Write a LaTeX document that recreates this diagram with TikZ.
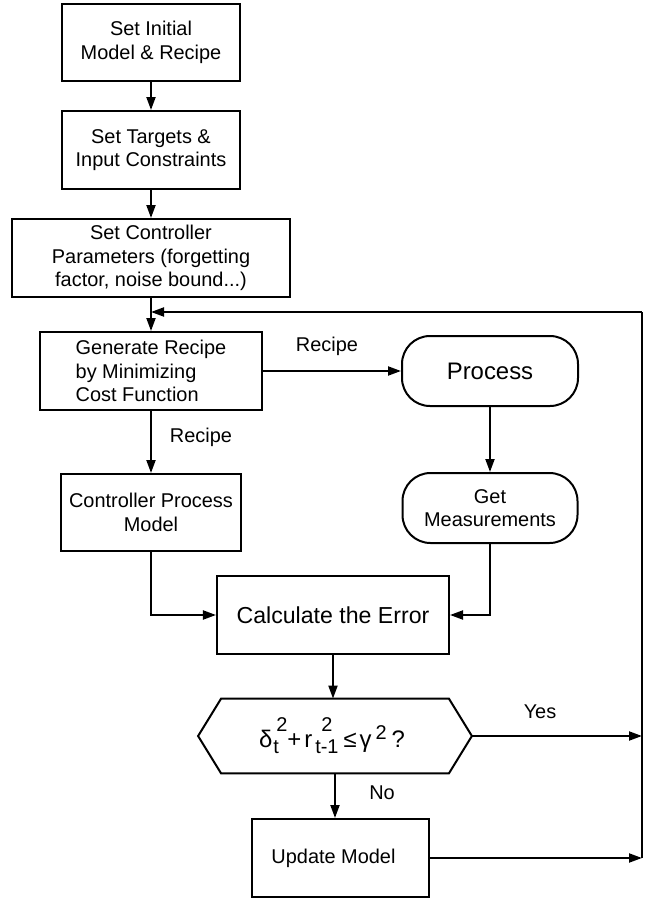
\documentclass[tikz,border=0pt]{standalone}
\usepackage{fontspec}
\setmainfont{Liberation Sans}
\usetikzlibrary{arrows.meta,calc}

\newlength{\sslen}
\newcommand{\lo}[1]{\raisebox{-3bp}{\fontsize{10}{12}\selectfont #1}}
\newcommand{\hi}[2]{\raisebox{#1}{\fontsize{10}{12}\selectfont #2}}
\newcommand{\supsub}[2]{\settowidth{\sslen}{\lo{#2}}\lo{#2}\hspace{-\sslen}\makebox[\sslen]{\hi{8bp}{#1}}}

\begin{document}
\begin{tikzpicture}[x=0.5bp,y=-0.5bp,
  box/.style={draw,line width=1bp,align=center,inner sep=2bp,font=\fontsize{10}{11.8}\selectfont},
  roundbox/.style={box,rounded corners=14bp},
  lbl/.style={font=\fontsize{10}{12}\selectfont,inner sep=0pt},
  wire/.style={line width=1bp},
  arr/.style={line width=1bp,-{Triangle[length=6.5bp,width=4.5bp]}}]

\useasboundingbox (0,0) rectangle (648,898);

% Setup steps
\node (init) at (151,42.5) [box,minimum width=88.5bp,minimum height=38.5bp] {Set Initial\\Model \& Recipe};
\node (targets) at (151,150) [box,minimum width=89bp,minimum height=39bp] {Set Targets \&\\Input Constraints};
\node (params) at (151,258) [box,minimum width=139bp,minimum height=39bp] {Set Controller\\Parameters (forgetting\\factor, noise bound...)};
\draw[arr] (init) -- (targets);
\draw[arr] (targets) -- (params);

% Controller and plant
\node (generate) at (151,371) [box,align=left,minimum width=110.5bp,minimum height=39bp] {Generate Recipe\\by Minimizing\\Cost Function};
\node (process) at (490,371) [roundbox,minimum width=88bp,minimum height=35bp,font=\fontsize{12}{14}\selectfont] {Process};
\node (model) at (151,512.5) [box,minimum width=89.5bp,minimum height=38.5bp] {Controller Process\\Model};
\node (measure) at (490,508) [roundbox,minimum width=87.5bp,minimum height=35bp] {Get\\Measurements};
\draw[arr] (params) -- (generate);
\draw[arr] (generate) -- (process);
\draw[arr] (generate) -- (model);
\draw[arr] (process) -- (measure);

% Error and test
\node (error) at (333,615) [box,minimum width=116bp,minimum height=39bp,font=\fontsize{11.6}{14}\selectfont] {Calculate the Error};
\node (check) at (335,736) [minimum width=136.5bp,minimum height=37bp,inner sep=0pt,font=\fontsize{12}{14}\selectfont]
  {\hspace*{-3bp}δ\hspace{0.5bp}\lo{t}\hspace{-1.3bp}\hi{8bp}{2}+\hspace{1.5bp}r\hspace{1.5bp}\supsub{2}{t-1}\hspace{2.5bp}≤\hspace{1.5bp}γ\hspace{2bp}\hi{4bp}{2}\hspace{2.5bp}?};
\draw[wire] (check.west) -- ($(check.north west)+(23,0)$) -- ($(check.north east)+(-23,0)$)
  -- (check.east) -- ($(check.south east)+(-23,0)$) -- ($(check.south west)+(23,0)$) -- cycle;
\node (update) at (340.5,858) [box,minimum width=88.5bp,minimum height=39bp] {Update Model\hspace*{7bp}};
\draw[arr] (model) |- (error);
\draw[arr] (measure) |- (error);
\draw[arr] (error) -- (error |- check.north);
\draw[arr] (check.south) -- (check.south |- update.north);

% Feedback loop
\coordinate (loop) at (642,312);
\draw[arr] (check.east) -- (check.east -| loop);
\draw[arr] (update.east) -- (update.east -| loop);
\draw[wire] (update.east -| loop) -- (loop);
\draw[arr] (loop) -- (loop -| params.south);

% Labels
\node (recipea) at (327,346) [lbl] {Recipe};
\node (recipeb) at (201,437) [lbl] {Recipe};
\node (yes) at (540,712) [lbl] {Yes};
\node (no) at (382,793) [lbl] {No};

\end{tikzpicture}
\end{document}
